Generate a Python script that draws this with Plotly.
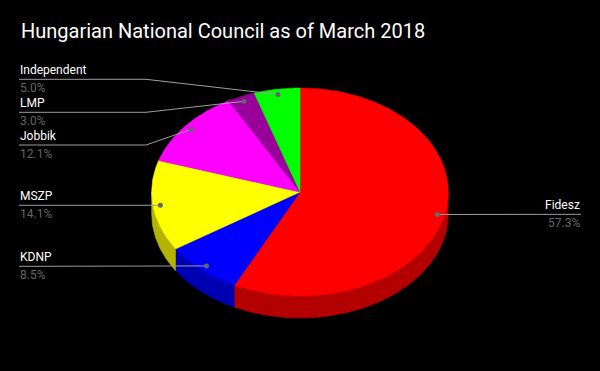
import numpy as np
import plotly.graph_objects as go

# ---- data ----
parties = ["Fidesz", "KDNP", "MSZP", "Jobbik", "LMP", "Independent"]
shares = [57.3, 8.5, 14.1, 12.1, 3.0, 5.0]
pct_labels = ["57.3%", "8.5%", "14.1%", "12.1%", "3.0%", "5.0%"]

# ---- styles / layout ----
top_colors = ["#ff0000", "#0000ff", "#ffff00", "#ff00ff", "#990099", "#00ff00"]
side_colors = ["#b30000", "#0000b3", "#b3b300", "#b300b3", "#6b006b", "#00b300"]
CX, CY, RX, RY, DEPTH = 300.0, 192.0, 148.3, 104.0, 22.0
DOT_FRAC = 0.95
# label leader-line heights (after collision avoidance) and sides
label_line_y = [214.3, 266.3, 205.3, 145.0, 112.3, 79.3]
label_side = ["right", "left", "left", "left", "left", "left"]
LEFT_X, RIGHT_X, ELBOW_L, ELBOW_R = 19.0, 581.0, 146.0, 454.0


def ell(theta, dy=0.0):
    return CX + RX * np.sin(theta), CY - RY * np.cos(theta) + dy


total = float(sum(shares))
fracs = np.array(shares) / total
ends = np.cumsum(fracs)
starts = ends - fracs

fig = go.Figure()

# side walls (visible front half: theta in [pi/2, 3pi/2])
for i in range(len(parties)):
    a = max(2 * np.pi * starts[i], np.pi / 2)
    b = min(2 * np.pi * ends[i], 3 * np.pi / 2)
    if b <= a:
        continue
    t = np.linspace(a, b, max(int((b - a) * 80), 4))
    xt, yt = ell(t)
    xb, yb = ell(t[::-1], DEPTH)
    fig.add_trace(go.Scatter(
        x=np.concatenate([xt, xb]), y=np.concatenate([yt, yb]),
        mode="lines", fill="toself", fillcolor=side_colors[i],
        line=dict(color=side_colors[i], width=0.6), hoverinfo="skip",
        showlegend=False))

# top faces
for i in range(len(parties)):
    a, b = 2 * np.pi * starts[i], 2 * np.pi * ends[i]
    t = np.linspace(a, b, max(int((b - a) * 80), 4))
    xt, yt = ell(t)
    fig.add_trace(go.Scatter(
        x=np.concatenate([[CX], xt, [CX]]), y=np.concatenate([[CY], yt, [CY]]),
        mode="lines", fill="toself", fillcolor=top_colors[i],
        line=dict(color=top_colors[i], width=0.6), hoverinfo="skip",
        showlegend=False))

annotations = []
dot_x, dot_y = [], []
for i in range(len(parties)):
    mid = 2 * np.pi * (starts[i] + ends[i]) / 2
    dx = CX + DOT_FRAC * RX * np.sin(mid)
    dy = CY - DOT_FRAC * RY * np.cos(mid)
    dot_x.append(dx)
    dot_y.append(dy)
    ly = label_line_y[i]
    if label_side[i] == "left":
        xs, ys = [LEFT_X, ELBOW_L, dx], [ly, ly, dy]
        ax, anch = LEFT_X - 1, "left"
    else:
        xs, ys = [RIGHT_X, ELBOW_R, dx], [ly, ly, dy]
        ax, anch = RIGHT_X + 1, "right"
    fig.add_trace(go.Scatter(x=xs, y=ys, mode="lines",
                             line=dict(color="#9e9e9e", width=1),
                             hoverinfo="skip", showlegend=False))
    annotations.append(dict(x=ax, y=ly - 9, xref="x", yref="y", text=parties[i],
                            showarrow=False, xanchor=anch, yanchor="middle",
                            font=dict(family="Roboto", size=12, color="#ffffff")))
    annotations.append(dict(x=ax, y=ly + 9, xref="x", yref="y", text=pct_labels[i],
                            showarrow=False, xanchor=anch, yanchor="middle",
                            font=dict(family="Roboto", size=12, color="#666666")))

fig.add_trace(go.Scatter(x=dot_x, y=dot_y, mode="markers",
                         marker=dict(color="#666666", size=5),
                         hoverinfo="skip", showlegend=False))

annotations.append(dict(x=19, y=30.5, xref="x", yref="y",
                        text="Hungarian National Council as of March 2018",
                        showarrow=False, xanchor="left", yanchor="middle",
                        font=dict(family="Roboto", size=20, color="#ffffff")))

fig.update_layout(
    width=600, height=371, autosize=False,
    margin=dict(l=0, r=0, t=0, b=0),
    paper_bgcolor="#000000", plot_bgcolor="#000000",
    xaxis=dict(range=[0, 600], visible=False, fixedrange=True),
    yaxis=dict(range=[371, 0], visible=False, fixedrange=True),
    annotations=annotations,
    showlegend=False,
)

fig.write_html("out.html", config={"displayModeBar": False})
